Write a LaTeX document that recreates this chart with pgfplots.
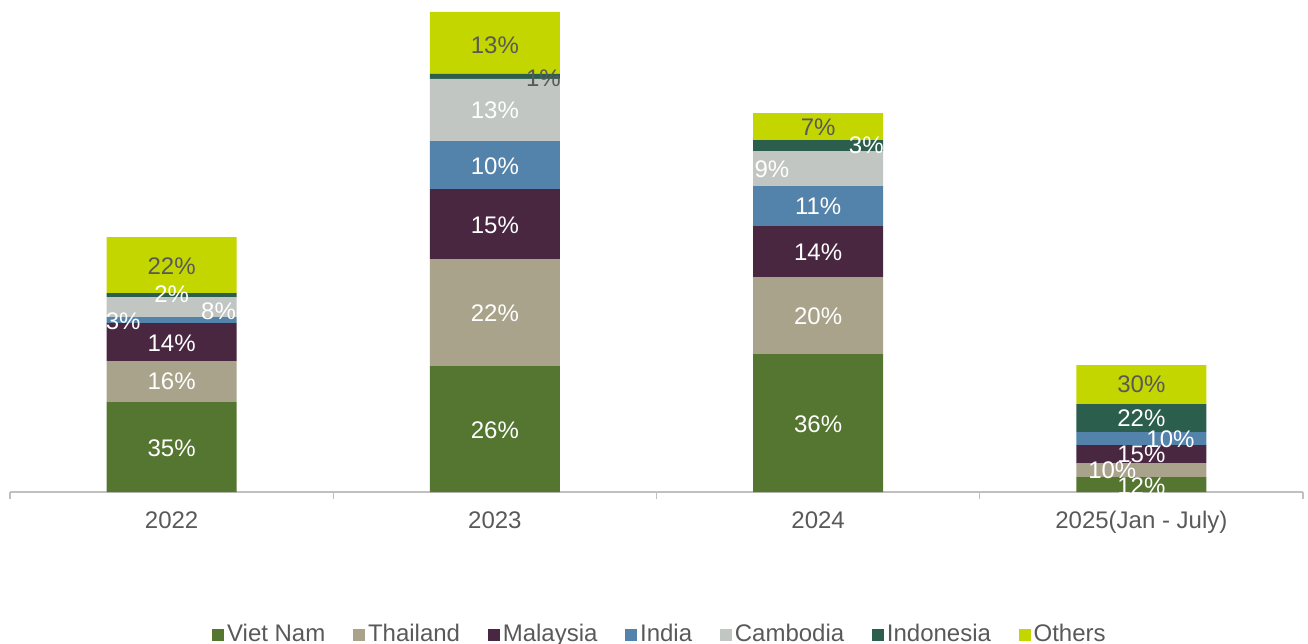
\documentclass[border=0pt]{standalone}
\usepackage{pgfplots}
\pgfplotsset{compat=1.18}
\usepackage{fontspec}
\setmainfont{Liberation Sans}
\definecolor{cVN}{HTML}{557630}
\definecolor{cTH}{HTML}{A9A38B}
\definecolor{cMY}{HTML}{4A2741}
\definecolor{cIN}{HTML}{5382AB}
\definecolor{cKH}{HTML}{C1C6C3}
\definecolor{cID}{HTML}{2B5E4D}
\definecolor{cOT}{HTML}{C3D600}
\definecolor{labelgray}{HTML}{595959}
\definecolor{axisgray}{HTML}{C0C0C0}
\begin{document}
\fontsize{18}{21}\selectfont
\begin{tikzpicture}
\pgfplotsset{
  base/.style={scale only axis, width=969.75pt, height=360pt,
    xmin=-0.5, xmax=3.5, ymin=0, ymax=480},
}
\begin{axis}[base, ybar stacked, bar width=97.5pt,
  axis x line*=bottom, axis y line=none,
  xtick={0,1,2,3},
  xticklabels={2022,2023,2024,2025(Jan - July)},
  major tick length=0pt,
  minor xtick={-0.5,0.5,1.5,2.5,3.5},
  minor tick length=5.25pt,
  tick align=outside,
  x axis line style={draw=axisgray, line width=1pt},
  minor tick style={draw=axisgray, line width=1pt},
  major tick style={draw=none},
  xticklabel style={text=labelgray, anchor=base, yshift=-27.5pt},
  legend columns=7,
  legend style={draw=none, fill=none, at={(0.503,-0.298)}, anchor=center,
    text=labelgray, /tikz/every even column/.append style={column sep=19pt}},
  legend image code/.code={\fill[#1] (0pt,-4.5pt) rectangle (9pt,4.5pt);},
]
\addplot[fill=cVN, draw=none] coordinates {(0,90) (1,126) (2,138) (3,15)};
\addplot[fill=cTH, draw=none] coordinates {(0,41) (1,107) (2,77) (3,14)};
\addplot[fill=cMY, draw=none] coordinates {(0,38) (1,70) (2,51) (3,18)};
\addplot[fill=cIN, draw=none] coordinates {(0,6) (1,48) (2,40) (3,13)};
\addplot[fill=cKH, draw=none] coordinates {(0,20) (1,62) (2,35) (3,0)};
\addplot[fill=cID, draw=none] coordinates {(0,4) (1,5) (2,11) (3,28)};
\addplot[fill=cOT, draw=none] coordinates {(0,56) (1,62) (2,27) (3,39)};
\legend{Viet Nam, Thailand, Malaysia, India, Cambodia, Indonesia, Others}
\end{axis}
\begin{axis}[base, hide axis, clip=false]
\coordinate (bl) at (rel axis cs:0,0);
\coordinate (tr) at (rel axis cs:1,1);
\addplot[only marks, mark=none, nodes near coords, point meta=explicit symbolic,
  every node near coord/.style={anchor=center, text=white, inner sep=0pt}]
  coordinates {
  (0,44) [35\%] (0,111) [16\%] (0,149) [14\%] (-0.15,171) [3\%] (0.145,181) [8\%] (0,198) [2\%]
  (1,62) [26\%] (1,179) [22\%] (1,267) [15\%] (1,326) [10\%] (1,382) [13\%]
  (2,68) [36\%] (2,176) [20\%] (2,240) [14\%] (2,286) [11\%] (1.857,323) [9\%] (2.149,347) [3\%]
  (3,6) [12\%] (2.91,22) [10\%] (3,38) [15\%] (3.09,53) [10\%] (3,74) [22\%]
  };
\addplot[only marks, mark=none, nodes near coords, point meta=explicit symbolic,
  every node near coord/.style={anchor=center, text=labelgray, inner sep=0pt}]
  coordinates {
  (0,226) [22\%] (1.15,414) [1\%] (1,447) [13\%] (2,365) [7\%] (3,108) [30\%]
  };
\end{axis}
\pgfresetboundingbox
\path ([shift={(-7.5pt,-113.25pt)}]bl) rectangle ([shift={(3.75pt,9pt)}]tr);
\end{tikzpicture}
\end{document}
